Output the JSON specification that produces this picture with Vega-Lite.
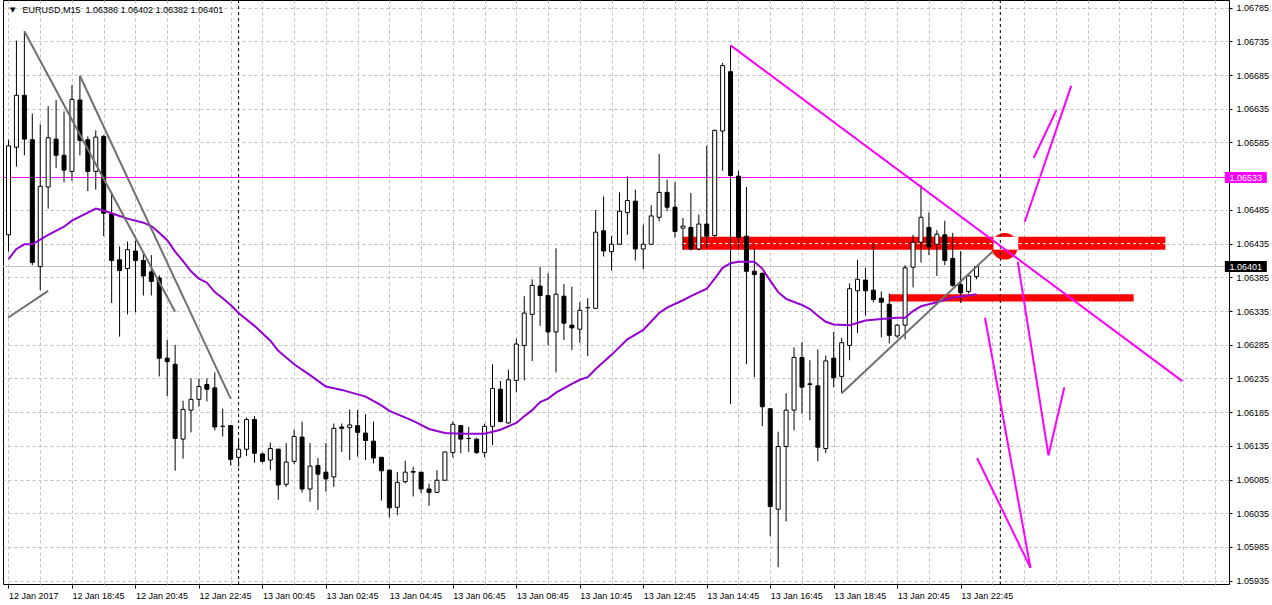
{
"$schema": "https://vega.github.io/schema/vega-lite/v6.json",
"width": 1226, "height": 584,
"autosize": {"type": "none"},
"padding": {"left": 3, "top": 0, "right": 43, "bottom": 21},
"background": "#ffffff",
"resolve": {"axis": {"x": "independent", "y": "independent"}},
"config": {
  "view": {"stroke": "#000000", "strokeWidth": 1},
  "font": "Liberation Sans",
  "axis": {"gridColor": "#c0c0c0", "gridDash": [3,3], "gridWidth": 1, "gridOpacity": 1, "labelFont": "Liberation Sans", "labelFontSize": 9, "labelColor": "#000000", "tickColor": "#000000", "domain": false, "labelOverlap": false}
},
"datasets": {
"candles": [
{"t":"2017-01-12T16:45:00Z","o":1.06448,"h":1.06589,"l":1.06423,"c":1.06580},
{"t":"2017-01-12T17:00:00Z","o":1.06578,"h":1.06736,"l":1.06549,"c":1.06655},
{"t":"2017-01-12T17:15:00Z","o":1.06655,"h":1.06750,"l":1.06566,"c":1.06590},
{"t":"2017-01-12T17:30:00Z","o":1.06589,"h":1.06628,"l":1.06403,"c":1.06407},
{"t":"2017-01-12T17:45:00Z","o":1.06401,"h":1.06612,"l":1.06366,"c":1.06520},
{"t":"2017-01-12T18:00:00Z","o":1.06519,"h":1.06639,"l":1.06487,"c":1.06592},
{"t":"2017-01-12T18:15:00Z","o":1.06590,"h":1.06648,"l":1.06547,"c":1.06566},
{"t":"2017-01-12T18:30:00Z","o":1.06566,"h":1.06631,"l":1.06526,"c":1.06544},
{"t":"2017-01-12T18:45:00Z","o":1.06542,"h":1.06670,"l":1.06528,"c":1.06649},
{"t":"2017-01-12T19:00:00Z","o":1.06648,"h":1.06684,"l":1.06566,"c":1.06588},
{"t":"2017-01-12T19:15:00Z","o":1.06589,"h":1.06594,"l":1.06513,"c":1.06542},
{"t":"2017-01-12T19:30:00Z","o":1.06542,"h":1.06603,"l":1.06515,"c":1.06593},
{"t":"2017-01-12T19:45:00Z","o":1.06594,"h":1.06596,"l":1.06446,"c":1.06480},
{"t":"2017-01-12T20:00:00Z","o":1.06479,"h":1.06512,"l":1.06347,"c":1.06410},
{"t":"2017-01-12T20:15:00Z","o":1.06411,"h":1.06431,"l":1.06297,"c":1.06395},
{"t":"2017-01-12T20:30:00Z","o":1.06398,"h":1.06438,"l":1.06330,"c":1.06426},
{"t":"2017-01-12T20:45:00Z","o":1.06424,"h":1.06439,"l":1.06333,"c":1.06410},
{"t":"2017-01-12T21:00:00Z","o":1.06410,"h":1.06421,"l":1.06358,"c":1.06387},
{"t":"2017-01-12T21:15:00Z","o":1.06393,"h":1.06418,"l":1.06358,"c":1.06379},
{"t":"2017-01-12T21:30:00Z","o":1.06384,"h":1.06388,"l":1.06238,"c":1.06265},
{"t":"2017-01-12T21:45:00Z","o":1.06265,"h":1.06292,"l":1.06209,"c":1.06260},
{"t":"2017-01-12T22:00:00Z","o":1.06256,"h":1.06285,"l":1.06098,"c":1.06146},
{"t":"2017-01-12T22:15:00Z","o":1.06145,"h":1.06202,"l":1.06116,"c":1.06189},
{"t":"2017-01-12T22:30:00Z","o":1.06188,"h":1.06235,"l":1.06155,"c":1.06204},
{"t":"2017-01-12T22:45:00Z","o":1.06204,"h":1.06235,"l":1.06193,"c":1.06223},
{"t":"2017-01-12T23:00:00Z","o":1.06226,"h":1.06235,"l":1.06201,"c":1.06219},
{"t":"2017-01-12T23:15:00Z","o":1.06221,"h":1.06244,"l":1.06158,"c":1.06163},
{"t":"2017-01-12T23:30:00Z","o":1.06164,"h":1.06190,"l":1.06149,"c":1.06164},
{"t":"2017-01-12T23:45:00Z","o":1.06165,"h":1.06166,"l":1.06106,"c":1.06115},
{"t":"2017-01-13T00:00:00Z","o":1.06118,"h":1.06146,"l":1.06104,"c":1.06130},
{"t":"2017-01-13T00:15:00Z","o":1.06130,"h":1.06177,"l":1.06120,"c":1.06174},
{"t":"2017-01-13T00:30:00Z","o":1.06174,"h":1.06179,"l":1.06110,"c":1.06124},
{"t":"2017-01-13T00:45:00Z","o":1.06123,"h":1.06125,"l":1.06110,"c":1.06112},
{"t":"2017-01-13T01:00:00Z","o":1.06114,"h":1.06140,"l":1.06099,"c":1.06131},
{"t":"2017-01-13T01:15:00Z","o":1.06130,"h":1.06131,"l":1.06055,"c":1.06077},
{"t":"2017-01-13T01:30:00Z","o":1.06078,"h":1.06139,"l":1.06074,"c":1.06111},
{"t":"2017-01-13T01:45:00Z","o":1.06112,"h":1.06159,"l":1.06108,"c":1.06149},
{"t":"2017-01-13T02:00:00Z","o":1.06148,"h":1.06171,"l":1.06066,"c":1.06071},
{"t":"2017-01-13T02:15:00Z","o":1.06071,"h":1.06139,"l":1.06052,"c":1.06105},
{"t":"2017-01-13T02:30:00Z","o":1.06106,"h":1.06117,"l":1.06040,"c":1.06093},
{"t":"2017-01-13T02:45:00Z","o":1.06096,"h":1.06139,"l":1.06067,"c":1.06086},
{"t":"2017-01-13T03:00:00Z","o":1.06089,"h":1.06168,"l":1.06074,"c":1.06161},
{"t":"2017-01-13T03:15:00Z","o":1.06163,"h":1.06168,"l":1.06126,"c":1.06161},
{"t":"2017-01-13T03:30:00Z","o":1.06162,"h":1.06189,"l":1.06114,"c":1.06166},
{"t":"2017-01-13T03:45:00Z","o":1.06165,"h":1.06188,"l":1.06119,"c":1.06155},
{"t":"2017-01-13T04:00:00Z","o":1.06154,"h":1.06182,"l":1.06114,"c":1.06143},
{"t":"2017-01-13T04:15:00Z","o":1.06142,"h":1.06171,"l":1.06109,"c":1.06117},
{"t":"2017-01-13T04:30:00Z","o":1.06118,"h":1.06118,"l":1.06054,"c":1.06098},
{"t":"2017-01-13T04:45:00Z","o":1.06099,"h":1.06099,"l":1.06029,"c":1.06043},
{"t":"2017-01-13T05:00:00Z","o":1.06044,"h":1.06096,"l":1.06032,"c":1.06081},
{"t":"2017-01-13T05:15:00Z","o":1.06082,"h":1.06113,"l":1.06079,"c":1.06096},
{"t":"2017-01-13T05:30:00Z","o":1.06097,"h":1.06104,"l":1.06060,"c":1.06096},
{"t":"2017-01-13T05:45:00Z","o":1.06096,"h":1.06096,"l":1.06065,"c":1.06071},
{"t":"2017-01-13T06:00:00Z","o":1.06071,"h":1.06079,"l":1.06046,"c":1.06066},
{"t":"2017-01-13T06:15:00Z","o":1.06066,"h":1.06099,"l":1.06066,"c":1.06084},
{"t":"2017-01-13T06:30:00Z","o":1.06084,"h":1.06126,"l":1.06084,"c":1.06126},
{"t":"2017-01-13T06:45:00Z","o":1.06125,"h":1.06171,"l":1.06118,"c":1.06167},
{"t":"2017-01-13T07:00:00Z","o":1.06165,"h":1.06166,"l":1.06124,"c":1.06145},
{"t":"2017-01-13T07:15:00Z","o":1.06146,"h":1.06163,"l":1.06126,"c":1.06146},
{"t":"2017-01-13T07:30:00Z","o":1.06145,"h":1.06147,"l":1.06123,"c":1.06125},
{"t":"2017-01-13T07:45:00Z","o":1.06125,"h":1.06168,"l":1.06118,"c":1.06164},
{"t":"2017-01-13T08:00:00Z","o":1.06164,"h":1.06256,"l":1.06136,"c":1.06220},
{"t":"2017-01-13T08:15:00Z","o":1.06219,"h":1.06231,"l":1.06170,"c":1.06171},
{"t":"2017-01-13T08:30:00Z","o":1.06169,"h":1.06248,"l":1.06168,"c":1.06233},
{"t":"2017-01-13T08:45:00Z","o":1.06232,"h":1.06294,"l":1.06215,"c":1.06286},
{"t":"2017-01-13T09:00:00Z","o":1.06284,"h":1.06357,"l":1.06232,"c":1.06332},
{"t":"2017-01-13T09:15:00Z","o":1.06330,"h":1.06382,"l":1.06261,"c":1.06373},
{"t":"2017-01-13T09:30:00Z","o":1.06372,"h":1.06400,"l":1.06313,"c":1.06358},
{"t":"2017-01-13T09:45:00Z","o":1.06358,"h":1.06391,"l":1.06284,"c":1.06304},
{"t":"2017-01-13T10:00:00Z","o":1.06304,"h":1.06428,"l":1.06244,"c":1.06360},
{"t":"2017-01-13T10:15:00Z","o":1.06357,"h":1.06375,"l":1.06292,"c":1.06317},
{"t":"2017-01-13T10:30:00Z","o":1.06314,"h":1.06371,"l":1.06277,"c":1.06310},
{"t":"2017-01-13T10:45:00Z","o":1.06308,"h":1.06348,"l":1.06288,"c":1.06336},
{"t":"2017-01-13T11:00:00Z","o":1.06340,"h":1.06354,"l":1.06268,"c":1.06340},
{"t":"2017-01-13T11:15:00Z","o":1.06339,"h":1.06485,"l":1.06339,"c":1.06452},
{"t":"2017-01-13T11:30:00Z","o":1.06454,"h":1.06505,"l":1.06416,"c":1.06424},
{"t":"2017-01-13T11:45:00Z","o":1.06423,"h":1.06446,"l":1.06395,"c":1.06434},
{"t":"2017-01-13T12:00:00Z","o":1.06434,"h":1.06511,"l":1.06434,"c":1.06483},
{"t":"2017-01-13T12:15:00Z","o":1.06481,"h":1.06535,"l":1.06448,"c":1.06499},
{"t":"2017-01-13T12:30:00Z","o":1.06498,"h":1.06515,"l":1.06410,"c":1.06427},
{"t":"2017-01-13T12:45:00Z","o":1.06427,"h":1.06463,"l":1.06397,"c":1.06434},
{"t":"2017-01-13T13:00:00Z","o":1.06434,"h":1.06492,"l":1.06434,"c":1.06476},
{"t":"2017-01-13T13:15:00Z","o":1.06474,"h":1.06568,"l":1.06468,"c":1.06511},
{"t":"2017-01-13T13:30:00Z","o":1.06511,"h":1.06530,"l":1.06483,"c":1.06489},
{"t":"2017-01-13T13:45:00Z","o":1.06489,"h":1.06526,"l":1.06444,"c":1.06453},
{"t":"2017-01-13T14:00:00Z","o":1.06458,"h":1.06473,"l":1.06426,"c":1.06461},
{"t":"2017-01-13T14:15:00Z","o":1.06459,"h":1.06510,"l":1.06425,"c":1.06427},
{"t":"2017-01-13T14:30:00Z","o":1.06427,"h":1.06478,"l":1.06425,"c":1.06464},
{"t":"2017-01-13T14:45:00Z","o":1.06464,"h":1.06580,"l":1.06428,"c":1.06446},
{"t":"2017-01-13T15:00:00Z","o":1.06447,"h":1.06604,"l":1.06443,"c":1.06603},
{"t":"2017-01-13T15:15:00Z","o":1.06602,"h":1.06703,"l":1.06543,"c":1.06699},
{"t":"2017-01-13T15:30:00Z","o":1.06690,"h":1.06729,"l":1.06197,"c":1.06536},
{"t":"2017-01-13T15:45:00Z","o":1.06535,"h":1.06543,"l":1.06426,"c":1.06444},
{"t":"2017-01-13T16:00:00Z","o":1.06446,"h":1.06519,"l":1.06256,"c":1.06394},
{"t":"2017-01-13T16:15:00Z","o":1.06394,"h":1.06428,"l":1.06237,"c":1.06389},
{"t":"2017-01-13T16:30:00Z","o":1.06391,"h":1.06392,"l":1.06164,"c":1.06193},
{"t":"2017-01-13T16:45:00Z","o":1.06190,"h":1.06191,"l":1.06001,"c":1.06045},
{"t":"2017-01-13T17:00:00Z","o":1.06041,"h":1.06156,"l":1.05955,"c":1.06134},
{"t":"2017-01-13T17:15:00Z","o":1.06134,"h":1.06213,"l":1.06023,"c":1.06188},
{"t":"2017-01-13T17:30:00Z","o":1.06188,"h":1.06281,"l":1.06158,"c":1.06266},
{"t":"2017-01-13T17:45:00Z","o":1.06266,"h":1.06289,"l":1.06183,"c":1.06222},
{"t":"2017-01-13T18:00:00Z","o":1.06227,"h":1.06262,"l":1.06173,"c":1.06226},
{"t":"2017-01-13T18:15:00Z","o":1.06224,"h":1.06278,"l":1.06112,"c":1.06133},
{"t":"2017-01-13T18:30:00Z","o":1.06131,"h":1.06269,"l":1.06124,"c":1.06261},
{"t":"2017-01-13T18:45:00Z","o":1.06265,"h":1.06304,"l":1.06222,"c":1.06236},
{"t":"2017-01-13T19:00:00Z","o":1.06238,"h":1.06295,"l":1.06213,"c":1.06288},
{"t":"2017-01-13T19:15:00Z","o":1.06284,"h":1.06376,"l":1.06262,"c":1.06368},
{"t":"2017-01-13T19:30:00Z","o":1.06365,"h":1.06411,"l":1.06302,"c":1.06382},
{"t":"2017-01-13T19:45:00Z","o":1.06381,"h":1.06399,"l":1.06328,"c":1.06365},
{"t":"2017-01-13T20:00:00Z","o":1.06366,"h":1.06435,"l":1.06348,"c":1.06352},
{"t":"2017-01-13T20:15:00Z","o":1.06354,"h":1.06364,"l":1.06296,"c":1.06348},
{"t":"2017-01-13T20:30:00Z","o":1.06345,"h":1.06361,"l":1.06287,"c":1.06299},
{"t":"2017-01-13T20:45:00Z","o":1.06298,"h":1.06316,"l":1.06295,"c":1.06314},
{"t":"2017-01-13T21:00:00Z","o":1.06314,"h":1.06403,"l":1.06293,"c":1.06399},
{"t":"2017-01-13T21:15:00Z","o":1.06400,"h":1.06448,"l":1.06370,"c":1.06437},
{"t":"2017-01-13T21:30:00Z","o":1.06437,"h":1.06522,"l":1.06407,"c":1.06474},
{"t":"2017-01-13T21:45:00Z","o":1.06459,"h":1.06481,"l":1.06418,"c":1.06430},
{"t":"2017-01-13T22:00:00Z","o":1.06434,"h":1.06455,"l":1.06387,"c":1.06449},
{"t":"2017-01-13T22:15:00Z","o":1.06448,"h":1.06469,"l":1.06403,"c":1.06410},
{"t":"2017-01-13T22:30:00Z","o":1.06413,"h":1.06451,"l":1.06371,"c":1.06373},
{"t":"2017-01-13T22:45:00Z","o":1.06374,"h":1.06424,"l":1.06347,"c":1.06362},
{"t":"2017-01-13T23:00:00Z","o":1.06364,"h":1.06389,"l":1.06361,"c":1.06387},
{"t":"2017-01-13T23:15:00Z","o":1.06386,"h":1.06402,"l":1.06382,"c":1.06401}
],
"ma": [
{"t":"2017-01-12T16:45:00Z","v":1.06412},{"t":"2017-01-12T17:00:00Z","v":1.06427},{"t":"2017-01-12T17:15:00Z","v":1.06434},{"t":"2017-01-12T17:30:00Z","v":1.06434},{"t":"2017-01-12T17:45:00Z","v":1.06441},{"t":"2017-01-12T18:00:00Z","v":1.06448},{"t":"2017-01-12T18:30:00Z","v":1.06460},{"t":"2017-01-12T18:45:00Z","v":1.06469},{"t":"2017-01-12T19:15:00Z","v":1.06481},{"t":"2017-01-12T19:30:00Z","v":1.06487},{"t":"2017-01-12T19:45:00Z","v":1.06484},{"t":"2017-01-12T20:15:00Z","v":1.06476},{"t":"2017-01-12T20:30:00Z","v":1.06472},{"t":"2017-01-12T21:00:00Z","v":1.06466},{"t":"2017-01-12T21:15:00Z","v":1.06461},{"t":"2017-01-12T21:30:00Z","v":1.06451},{"t":"2017-01-12T21:45:00Z","v":1.06440},{"t":"2017-01-12T22:00:00Z","v":1.06423},{"t":"2017-01-12T22:15:00Z","v":1.06409},{"t":"2017-01-12T22:30:00Z","v":1.06394},{"t":"2017-01-12T22:45:00Z","v":1.06383},{"t":"2017-01-12T23:00:00Z","v":1.06377},{"t":"2017-01-12T23:15:00Z","v":1.06363},{"t":"2017-01-12T23:30:00Z","v":1.06354},{"t":"2017-01-12T23:45:00Z","v":1.06344},{"t":"2017-01-13T00:00:00Z","v":1.06332},{"t":"2017-01-13T00:30:00Z","v":1.06313},{"t":"2017-01-13T01:00:00Z","v":1.06291},{"t":"2017-01-13T01:15:00Z","v":1.06276},{"t":"2017-01-13T01:45:00Z","v":1.06256},{"t":"2017-01-13T02:15:00Z","v":1.06240},{"t":"2017-01-13T02:45:00Z","v":1.06223},{"t":"2017-01-13T03:15:00Z","v":1.06218},{"t":"2017-01-13T04:00:00Z","v":1.06208},{"t":"2017-01-13T04:30:00Z","v":1.06195},{"t":"2017-01-13T04:45:00Z","v":1.06187},{"t":"2017-01-13T05:30:00Z","v":1.06172},{"t":"2017-01-13T06:00:00Z","v":1.06160},{"t":"2017-01-13T06:30:00Z","v":1.06154},{"t":"2017-01-13T07:00:00Z","v":1.06153},{"t":"2017-01-13T07:30:00Z","v":1.06153},{"t":"2017-01-13T07:45:00Z","v":1.06153},{"t":"2017-01-13T08:00:00Z","v":1.06156},{"t":"2017-01-13T08:15:00Z","v":1.06159},{"t":"2017-01-13T08:45:00Z","v":1.06169},{"t":"2017-01-13T09:00:00Z","v":1.06179},{"t":"2017-01-13T09:15:00Z","v":1.06188},{"t":"2017-01-13T09:30:00Z","v":1.06200},{"t":"2017-01-13T09:45:00Z","v":1.06205},{"t":"2017-01-13T10:00:00Z","v":1.06214},{"t":"2017-01-13T10:30:00Z","v":1.06227},{"t":"2017-01-13T10:45:00Z","v":1.06233},{"t":"2017-01-13T11:00:00Z","v":1.06237},{"t":"2017-01-13T11:15:00Z","v":1.06249},{"t":"2017-01-13T11:45:00Z","v":1.06270},{"t":"2017-01-13T12:15:00Z","v":1.06293},{"t":"2017-01-13T12:45:00Z","v":1.06307},{"t":"2017-01-13T13:15:00Z","v":1.06332},{"t":"2017-01-13T13:30:00Z","v":1.06340},{"t":"2017-01-13T14:00:00Z","v":1.06351},{"t":"2017-01-13T14:15:00Z","v":1.06357},{"t":"2017-01-13T14:45:00Z","v":1.06368},{"t":"2017-01-13T15:00:00Z","v":1.06383},{"t":"2017-01-13T15:15:00Z","v":1.06399},{"t":"2017-01-13T15:30:00Z","v":1.06406},{"t":"2017-01-13T15:45:00Z","v":1.06408},{"t":"2017-01-13T16:15:00Z","v":1.06408},{"t":"2017-01-13T16:30:00Z","v":1.06398},{"t":"2017-01-13T16:45:00Z","v":1.06380},{"t":"2017-01-13T17:00:00Z","v":1.06363},{"t":"2017-01-13T17:15:00Z","v":1.06353},{"t":"2017-01-13T17:45:00Z","v":1.06344},{"t":"2017-01-13T18:00:00Z","v":1.06338},{"t":"2017-01-13T18:15:00Z","v":1.06328},{"t":"2017-01-13T18:30:00Z","v":1.06319},{"t":"2017-01-13T18:45:00Z","v":1.06315},{"t":"2017-01-13T19:15:00Z","v":1.06314},{"t":"2017-01-13T19:45:00Z","v":1.06321},{"t":"2017-01-13T20:15:00Z","v":1.06323},{"t":"2017-01-13T20:45:00Z","v":1.06325},{"t":"2017-01-13T21:00:00Z","v":1.06325},{"t":"2017-01-13T21:15:00Z","v":1.06335},{"t":"2017-01-13T21:30:00Z","v":1.06342},{"t":"2017-01-13T22:00:00Z","v":1.06348},{"t":"2017-01-13T22:30:00Z","v":1.06355},{"t":"2017-01-13T23:00:00Z","v":1.06358},{"t":"2017-01-13T23:15:00Z","v":1.06360}
],
"gray": [
{"id":"g1","t":"2017-01-12T17:15:00Z","p":1.06750},{"id":"g1","t":"2017-01-12T22:00:00Z","p":1.06334},
{"id":"g2","t":"2017-01-12T19:00:00Z","p":1.06684},{"id":"g2","t":"2017-01-12T23:45:00Z","p":1.06205},
{"id":"g3","t":"2017-01-12T16:44:04Z","p":1.06325},{"id":"g3","t":"2017-01-12T18:00:00Z","p":1.06365},
{"id":"g4","t":"2017-01-13T19:00:00Z","p":1.06213},{"id":"g4","t":"2017-01-13T23:45:00Z","p":1.06423}
],
"mag": [
{"id":"m1","t":"2017-01-13T15:30:00Z","p":1.06729},{"id":"m1","t":"2017-01-14T05:44:00Z","p":1.06231},
{"id":"m2","t":"2017-01-14T00:46:00Z","p":1.06467},{"id":"m2","t":"2017-01-14T02:14:00Z","p":1.06669},
{"id":"m3","t":"2017-01-14T01:03:00Z","p":1.06562},{"id":"m3","t":"2017-01-14T01:46:00Z","p":1.06633},
{"id":"m4","t":"2017-01-14T00:33:00Z","p":1.06408},{"id":"m4","t":"2017-01-14T01:31:00Z","p":1.06121},
{"id":"m5","t":"2017-01-14T01:31:00Z","p":1.06121},{"id":"m5","t":"2017-01-14T02:01:00Z","p":1.06222},
{"id":"m6","t":"2017-01-13T23:31:00Z","p":1.06325},{"id":"m6","t":"2017-01-14T00:57:00Z","p":1.05954},
{"id":"m7","t":"2017-01-13T23:16:00Z","p":1.06117},{"id":"m7","t":"2017-01-14T00:57:00Z","p":1.05954}
],
"rects": [
{"id":"R1","t":"2017-01-13T14:00:00Z","t2":"2017-01-14T05:12:00Z","p":1.06445,"p2":1.06426},
{"id":"R2","t":"2017-01-13T20:30:00Z","t2":"2017-01-14T04:12:00Z","p":1.06360,"p2":1.06349}
],
"ellipse": [{"t":"2017-01-14T00:08:00Z","p":1.06431}],
"overlap": [{"t":"2017-01-13T23:47:00Z","t2":"2017-01-14T00:34:00Z","p":1.06445,"p2":1.06426}],
"seps": [{"t":"2017-01-13T00:00:00Z"},{"t":"2017-01-14T00:00:00Z"}],
"levels": [{"kind":"level","p":1.06533},{"kind":"bid","p":1.06401}]
},
"layer": [
{"data":{"name":"rects"},"mark":{"type":"rect","fill":"#ff0000"},
 "encoding":{
  "x":{"field":"t","type":"temporal","scale":{"type":"utc","domain":[1484239443750,1484377368750],"nice":false},
   "axis":{"orient":"bottom","grid":true,"title":null,
    "values":[1484239500000,1484243100000,1484246700000,1484250300000,1484253900000,1484257500000,1484261100000,1484264700000,1484268300000,1484271900000,1484275500000,1484279100000,1484282700000,1484286300000,1484289900000,1484293500000,1484297100000,1484300700000,1484304300000,1484307900000,1484311500000,1484315100000,1484318700000,1484322300000,1484325900000,1484329500000,1484333100000,1484336700000,1484340300000,1484343900000,1484347500000,1484351100000,1484354700000,1484358300000,1484361900000,1484365500000,1484369100000,1484372700000,1484376300000],
    "labelExpr":"(utchours(datum.value) == 16 && utcdate(datum.value) == 12) ? '12 Jan 2017' : ((utchours(datum.value) % 2 == 0 && datum.value <= 1484347500000) ? utcFormat(datum.value, '%d %b %H:%M') : '')",
    "tickOpacity":{"condition":{"test":"utchours(datum.value) % 2 == 1 || datum.value > 1484347500000","value":0},"value":1},
    "tickSize":4,"labelAlign":"left","labelBaseline":"top","labelPadding":3,"labelOverlap":false,"labelFlush":false,"labelBound":false}},
  "x2":{"field":"t2"},
  "y":{"field":"p","type":"quantitative","scale":{"domain":[1.0593011,1.0679632],"nice":false,"zero":false},
   "axis":{"orient":"right","grid":true,"title":null,"format":".5f",
    "values":[1.05935,1.05985,1.06035,1.06085,1.06135,1.06185,1.06235,1.06285,1.06335,1.06385,1.06435,1.06485,1.06585,1.06635,1.06685,1.06735,1.06785],
    "tickSize":3,"labelPadding":4,"labelAlign":"left","labelBaseline":"middle","labelOverlap":false,"labelFlush":false,"labelBound":false}},
  "y2":{"field":"p2"}}},
{"data":{"name":"ellipse"},"mark":{"type":"point","shape":"circle","filled":true,"size":707,"color":"#ff0000","opacity":1},
 "encoding":{"x":{"field":"t","type":"temporal","scale":{"type":"utc","domain":[1484239443750,1484377368750],"nice":false},"axis":null},
  "y":{"field":"p","type":"quantitative","scale":{"domain":[1.0593011,1.0679632],"nice":false,"zero":false},"axis":null}}},
{"data":{"name":"overlap"},"mark":{"type":"rect","fill":"#ffffff"},
 "encoding":{"x":{"field":"t","type":"temporal","scale":{"type":"utc","domain":[1484239443750,1484377368750],"nice":false},"axis":null},"x2":{"field":"t2"},
  "y":{"field":"p","type":"quantitative","scale":{"domain":[1.0593011,1.0679632],"nice":false,"zero":false},"axis":null},"y2":{"field":"p2"}}},
{"data":{"name":"rects"},"transform":[{"filter":"datum.id == 'R1'"}],"mark":{"type":"rule","color":"#ffffff","strokeDash":[3,3],"strokeWidth":1},
 "encoding":{"x":{"field":"t","type":"temporal","scale":{"type":"utc","domain":[1484239443750,1484377368750],"nice":false},"axis":null},"x2":{"field":"t2"},
  "y":{"datum":1.06435,"type":"quantitative","scale":{"domain":[1.0593011,1.0679632],"nice":false,"zero":false},"axis":null}}},
{"data":{"name":"seps"},"mark":{"type":"rule","color":"#000000","strokeDash":[3,3],"strokeWidth":1},
 "encoding":{"x":{"field":"t","type":"temporal","scale":{"type":"utc","domain":[1484239443750,1484377368750],"nice":false},"axis":null}}},
{"data":{"name":"levels"},"transform":[{"filter":"datum.kind == 'bid'"}],"mark":{"type":"rule","color":"#c0c0c0","strokeWidth":1},
 "encoding":{"y":{"field":"p","type":"quantitative","scale":{"domain":[1.0593011,1.0679632],"nice":false,"zero":false},"axis":null}}},
{"data":{"name":"levels"},"transform":[{"filter":"datum.kind == 'level'"}],"mark":{"type":"rule","color":"#ff00ff","strokeWidth":1},
 "encoding":{"y":{"field":"p","type":"quantitative","scale":{"domain":[1.0593011,1.0679632],"nice":false,"zero":false},"axis":null}}},
{"data":{"name":"candles"},"mark":{"type":"rule","color":"#000000","strokeWidth":1},
 "encoding":{"x":{"field":"t","type":"temporal","scale":{"type":"utc","domain":[1484239443750,1484377368750],"nice":false},"axis":null},
  "y":{"field":"l","type":"quantitative","scale":{"domain":[1.0593011,1.0679632],"nice":false,"zero":false},"axis":null},"y2":{"field":"h"}}},
{"data":{"name":"candles"},"mark":{"type":"bar","width":4,"stroke":"#000000","strokeWidth":1},
 "encoding":{"x":{"field":"t","type":"temporal","scale":{"type":"utc","domain":[1484239443750,1484377368750],"nice":false},"axis":null},
  "y":{"field":"o","type":"quantitative","scale":{"domain":[1.0593011,1.0679632],"nice":false,"zero":false},"axis":null},"y2":{"field":"c"},
  "fill":{"condition":{"test":"datum.c >= datum.o","value":"#ffffff"},"value":"#000000"}}},
{"data":{"name":"ma"},"mark":{"type":"line","color":"#9400d3","strokeWidth":2},
 "encoding":{"x":{"field":"t","type":"temporal","scale":{"type":"utc","domain":[1484239443750,1484377368750],"nice":false},"axis":null},
  "y":{"field":"v","type":"quantitative","scale":{"domain":[1.0593011,1.0679632],"nice":false,"zero":false},"axis":null}}},
{"data":{"name":"gray"},"mark":{"type":"line","color":"#707070","strokeWidth":2},
 "encoding":{"x":{"field":"t","type":"temporal","scale":{"type":"utc","domain":[1484239443750,1484377368750],"nice":false},"axis":null},
  "y":{"field":"p","type":"quantitative","scale":{"domain":[1.0593011,1.0679632],"nice":false,"zero":false},"axis":null},"detail":{"field":"id"}}},
{"data":{"name":"mag"},"mark":{"type":"line","color":"#ff00ff","strokeWidth":2},
 "encoding":{"x":{"field":"t","type":"temporal","scale":{"type":"utc","domain":[1484239443750,1484377368750],"nice":false},"axis":null},
  "y":{"field":"p","type":"quantitative","scale":{"domain":[1.0593011,1.0679632],"nice":false,"zero":false},"axis":null},"detail":{"field":"id"}}},
{"data":{"values":[{}]},"mark":{"type":"text","text":"▼","fontSize":7,"font":"DejaVu Sans","align":"left","baseline":"middle","dx":1.5,"color":"#000000"},
 "encoding":{"x":{"datum":1484239500000,"type":"temporal","scale":{"type":"utc","domain":[1484239443750,1484377368750],"nice":false},"axis":null},
  "y":{"datum":1.06782,"type":"quantitative","scale":{"domain":[1.0593011,1.0679632],"nice":false,"zero":false},"axis":null}}},
{"data":{"values":[{}]},"mark":{"type":"text","text":"EURUSD,M15\u00a0 1.06386 1.06402 1.06382 1.06401","fontSize":9,"font":"Liberation Sans","align":"left","baseline":"middle","dx":14,"color":"#000000"},
 "encoding":{"x":{"datum":1484239500000,"type":"temporal","scale":{"type":"utc","domain":[1484239443750,1484377368750],"nice":false},"axis":null},
  "y":{"datum":1.06782,"type":"quantitative","scale":{"domain":[1.0593011,1.0679632],"nice":false,"zero":false},"axis":null}}},
{"data":{"name":"levels"},"mark":{"type":"tick","orient":"horizontal","size":42,"thickness":11,"opacity":1},
 "encoding":{"x":{"datum":1484379846000,"type":"temporal","scale":{"type":"utc","domain":[1484239443750,1484377368750],"nice":false},"axis":null},
  "y":{"field":"p","type":"quantitative","scale":{"domain":[1.0593011,1.0679632],"nice":false,"zero":false},"axis":null},
  "color":{"condition":{"test":"datum.kind == 'level'","value":"#ff00ff"},"value":"#000000"}}},
{"data":{"name":"levels"},"mark":{"type":"text","fontSize":9,"font":"Liberation Sans","align":"center","baseline":"middle","color":"#ffffff"},
 "encoding":{"x":{"datum":1484379846000,"type":"temporal","scale":{"type":"utc","domain":[1484239443750,1484377368750],"nice":false},"axis":null},
  "y":{"field":"p","type":"quantitative","scale":{"domain":[1.0593011,1.0679632],"nice":false,"zero":false},"axis":null},
  "text":{"field":"p","type":"quantitative","format":".5f"}}}
]
}
